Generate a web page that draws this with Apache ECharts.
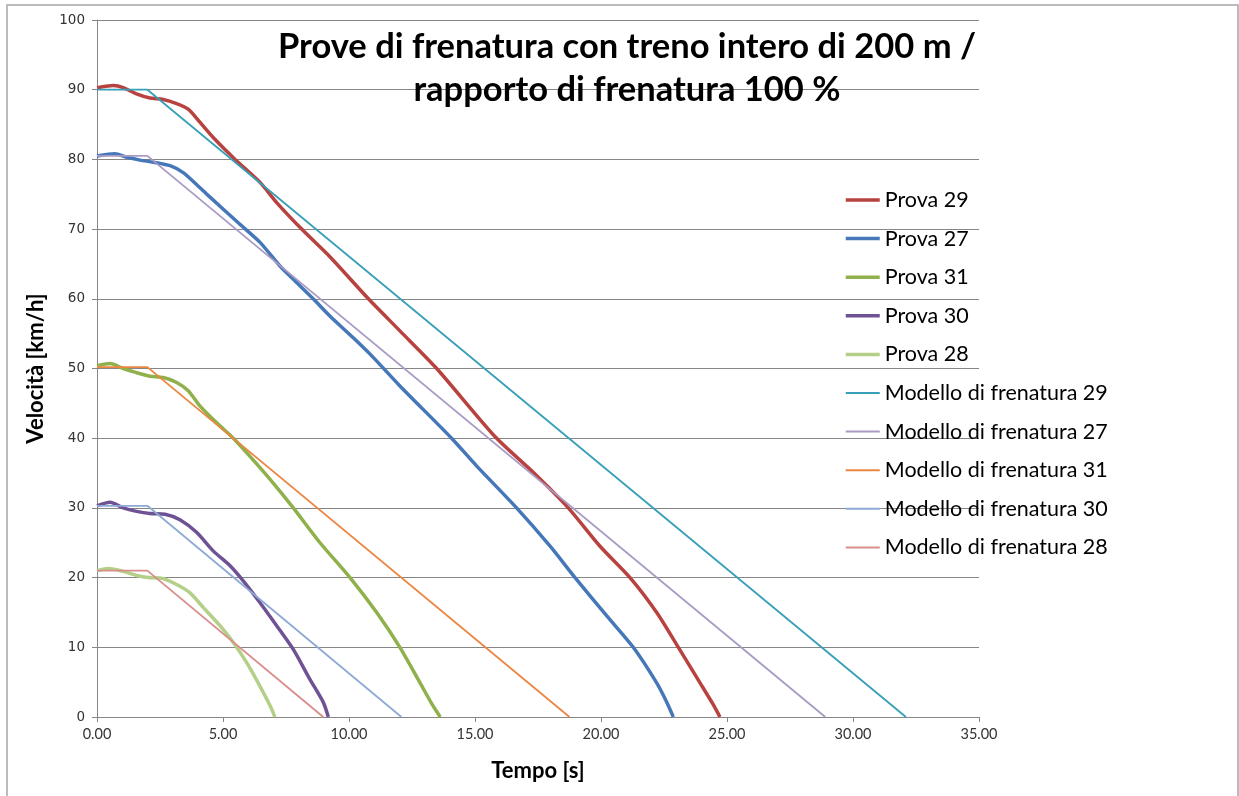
<!DOCTYPE html>
<html>
<head>
<meta charset="utf-8">
<script src="https://cdn.jsdelivr.net/npm/echarts@6/dist/echarts.min.js"></script>
<style>
  html, body { margin: 0; padding: 0; background: #fff; }
  #chart { width: 1239px; height: 796px; }
</style>
</head>
<body>
<div id="chart"></div>
<script>
// measured runs (tempo [s], velocità [km/h])
var prova29 = [[0, 90.3], [0.35, 90.5], [0.65, 90.6], [1.04, 90.3], [1.57, 89.4], [2.1, 88.8], [2.63, 88.6], [3.16, 88.0], [3.62, 87.2], [4.09, 85.3], [4.62, 83.1], [5.48, 80], [6.47, 76.7], [7.13, 73.8], [8.12, 70], [9.25, 66.0], [10.77, 60], [12.02, 55.4], [13.48, 50], [15.8, 40.2], [17.31, 35.1], [18.7, 30], [19.96, 24.5], [21.15, 20], [22.21, 15], [23.07, 10], [23.93, 4.9], [24.45, 1.8], [24.72, 0]]
var prova27 = [[0, 80.5], [0.71, 80.8], [1.18, 80.3], [1.71, 79.9], [2.24, 79.6], [2.9, 79.1], [3.42, 78.1], [3.95, 76.4], [4.42, 74.8], [5.67, 70.7], [6.47, 68.1], [7.26, 64.7], [7.79, 62.8], [8.58, 60], [9.25, 57.5], [10.17, 54.4], [10.96, 51.6], [12.02, 47.5], [14.07, 40], [15.07, 36], [16.65, 30], [17.98, 24.5], [18.97, 20], [20.23, 14.5], [21.28, 10], [22.21, 4.9], [22.6, 2.2], [22.87, 0]]
var prova31 = [[0, 50.4], [0.52, 50.7], [1.04, 50.0], [1.57, 49.4], [2.1, 48.9], [2.63, 48.7], [3.16, 48.0], [3.62, 46.8], [4.09, 44.6], [4.75, 42.2], [5.41, 40], [6.07, 37.4], [6.87, 34.1], [7.79, 30], [8.85, 25], [10.04, 20], [11.1, 15], [12.02, 10], [12.82, 4.9], [13.3, 1.8], [13.62, 0]]
var prova30 = [[0, 30.3], [0.52, 30.8], [1.04, 30.0], [1.57, 29.5], [2.1, 29.2], [2.7, 29.1], [3.29, 28.3], [3.95, 26.5], [4.62, 23.8], [5.28, 21.7], [5.81, 19.5], [6.47, 16.4], [7.13, 13.1], [7.79, 9.7], [8.45, 5.4], [8.98, 2.1], [9.18, 0]]
var prova28 = [[0, 21.0], [0.45, 21.3], [1.04, 20.9], [1.57, 20.3], [2.04, 20.0], [2.57, 19.9], [3.16, 19.0], [3.69, 17.8], [4.22, 15.7], [4.88, 13.1], [5.41, 10.7], [5.94, 7.8], [6.47, 4.4], [6.87, 1.6], [7.06, 0]]

// braking models
var modello29 = [[0, 90], [2, 90], [32.1, 0]]
var modello27 = [[0, 80.5], [2, 80.5], [28.9, 0]]
var modello31 = [[0, 50.2], [2, 50.2], [18.75, 0]]
var modello30 = [[0, 30.3], [2, 30.3], [12.08, 0]]
var modello28 = [[0, 21], [2, 21], [8.98, 0]]

var provaNames = ['Prova 29', 'Prova 27', 'Prova 31', 'Prova 30', 'Prova 28']
var modelloNames = ['Modello di frenatura 29', 'Modello di frenatura 27', 'Modello di frenatura 31', 'Modello di frenatura 30', 'Modello di frenatura 28']

var chart = echarts.init(document.getElementById('chart'))

var provaData = [prova29, prova27, prova31, prova30, prova28]
var provaColors = ['#b8423f', '#4677b8', '#8fb04a', '#6e5294', '#b4cf88']
var modelloData = [modello29, modello27, modello31, modello30, modello28]
var modelloColors = ['#37a0b8', '#a99bc3', '#ec8640', '#8eaad6', '#d98e8c']

var series = []
var legendData = []
for (var i = 0; i < provaData.length; i++) {
  series.push({
    name: provaNames[i],
    type: 'line',
    data: provaData[i],
    smooth: 0.25,
    symbol: 'none',
    color: provaColors[i],
    lineStyle: { width: 3.5, color: provaColors[i] },
    animation: false
  })
  legendData.push({ name: provaNames[i], lineStyle: { width: 3.5 } })
}
for (var j = 0; j < modelloData.length; j++) {
  series.push({
    name: modelloNames[j],
    type: 'line',
    data: modelloData[j],
    symbol: 'none',
    color: modelloColors[j],
    lineStyle: { width: 1.8, color: modelloColors[j] },
    animation: false
  })
  legendData.push({ name: modelloNames[j], lineStyle: { width: 2 } })
}

chart.setOption({
  backgroundColor: '#fff',
  textStyle: { fontFamily: 'Lato' },
  title: {
    text: 'Prove di frenatura con treno intero di 200 m /\nrapporto di frenatura 100 %',
    left: 622,
    top: 20,
    textAlign: 'center',
    textStyle: { fontFamily: 'Lato', fontWeight: 'bold', fontSize: 34.5, lineHeight: 43, color: '#000' }
  },
  graphic: [{
    type: 'rect',
    shape: { x: 7, y: 5, width: 1231, height: 800 },
    style: { fill: 'none', stroke: '#a6a6a6', lineWidth: 1.5 },
    silent: true
  }],
  legend: {
    orient: 'vertical',
    left: 839,
    top: 184,
    itemWidth: 34,
    itemHeight: 14,
    itemGap: 16.6,
    itemStyle: { opacity: 0 },
    data: legendData,
    textStyle: { fontFamily: 'Lato', fontSize: 21.5, lineHeight: 20, color: '#000' }
  },
  grid: { left: 97, right: 260, top: 20, bottom: 79 },
  xAxis: {
    type: 'value',
    min: 0,
    max: 35,
    interval: 5,
    name: 'Tempo [s]',
    nameLocation: 'middle',
    nameGap: 43,
    nameTextStyle: { fontFamily: 'Lato', fontWeight: 'bold', fontSize: 22, color: '#000' },
    axisLine: { onZero: false, lineStyle: { color: '#868686', width: 1 } },
    axisTick: { show: true, length: 5, lineStyle: { color: '#868686' } },
    axisLabel: { fontFamily: 'Lato', fontSize: 14.5, color: '#333', margin: 10, formatter: function (v) { return v.toFixed(2) } },
    splitLine: { show: false }
  },
  yAxis: {
    type: 'value',
    min: 0,
    max: 100,
    interval: 10,
    name: 'Velocità [km/h]',
    nameLocation: 'middle',
    nameGap: 50,
    nameTextStyle: { fontFamily: 'Lato', fontWeight: 'bold', fontSize: 22, color: '#000' },
    axisLine: { show: true, lineStyle: { color: '#868686', width: 1 } },
    axisTick: { show: true, length: 5, lineStyle: { color: '#868686' } },
    axisLabel: { fontFamily: 'DejaVu Sans', fontSize: 13.5, color: '#333', margin: 12 },
    splitLine: { show: true, lineStyle: { color: '#868686', width: 1 } }
  },
  series: series
})
</script>
</body>
</html>
